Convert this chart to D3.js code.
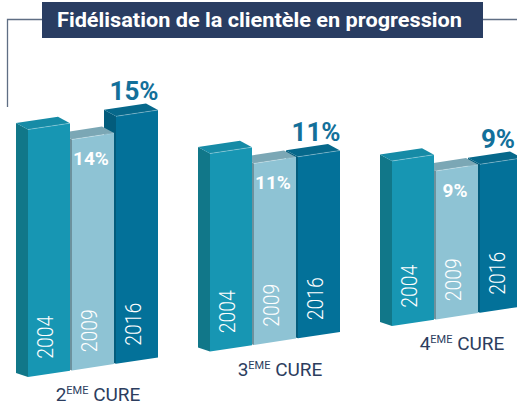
<!DOCTYPE html>
<html>
<head>
<meta charset="utf-8">
<script src="https://cdn.jsdelivr.net/npm/d3@7"></script>
<style>
  html, body { margin: 0; padding: 0; background: #fff; }
  svg { display: block; font-family: Roboto, "Noto Sans", sans-serif; }
</style>
</head>
<body>
<div id="chart"></div>
<script>
const groups = ["2", "3", "4"];                 // n-ème cure
const years = ["2004", "2009", "2016"];
const values2004 = [15, 12, 10];                // no label in the picture, read from heights
const values2009 = [14, 11, 9];
const values2016 = [15, 11, 9];
const titleText = "Fidélisation de la clientèle en progression";

const valuesByYear = [values2004, values2009, values2016];

const W = 517, H = 405;

// face colours: front / side / top
const palette = {
    "2004": { front: "#1796b3", side: "#117789", top: "#168ba6" },
    "2009": { front: "#8ec3d4", side: "#6c919d", top: "#7ba7b5" },
    "2016": { front: "#037199", side: "#035c7c", top: "#06688b" },
};

const svg = d3.select("#chart")
    .append("svg")
    .attr("width", W)
    .attr("height", H);

/* ============================================================
   TITLE + FRAME
============================================================ */

svg.append("path")
    .attr("d", "M42,19.5 H7.5 V107 M483,19.5 H517")
    .attr("fill", "none")
    .attr("stroke", "#5f6e84")
    .attr("stroke-width", 1.3);

svg.append("rect")
    .attr("x", 42).attr("y", 2)
    .attr("width", 441).attr("height", 36)
    .attr("fill", "#293d62");

svg.append("text")
    .attr("x", 259.5).attr("y", 27)
    .attr("text-anchor", "middle")
    .attr("fill", "#fff")
    .attr("font-size", 21)
    .attr("font-weight", 700)
    .attr("textLength", 405)
    .attr("lengthAdjust", "spacingAndGlyphs")
    .text(titleText);

/* ============================================================
   SCALES (3D perspective plane)
============================================================ */

const gx = d3.scalePoint().domain(groups).range([28, 392]);
const gBase = d3.scalePoint().domain(groups).range([377, 326]);
const bx = d3.scaleBand().domain(years).range([0, 130]).paddingInner(2 / 44);
const hScale = d3.scaleLinear().domain([0, 15]).range([0, 247.5]);

const slope = -0.15;          // front faces lean up to the right
const dx = -12, dyTop = -6.5, dyBot = -4;
const w = bx.bandwidth();

const bars = groups.flatMap((g, gi) =>
    years.map((yr, yi) => {
        const off = bx(yr);
        const x = gx(g) + off;
        const yb = gBase(g) + slope * off;
        const h = hScale(valuesByYear[yi][gi]);
        return { g, gi, yr, yi, v: valuesByYear[yi][gi], x, yb, h };
    })
);

// paint right to left inside a group: left bars sit in front
const order = bars.slice().sort((a, b) => a.gi - b.gi || b.yi - a.yi);

const line = (pts) => "M" + pts.map((p) => p.join(",")).join("L") + "Z";

const gBars = svg.append("g");

order.forEach((d) => {
    const c = palette[d.yr];
    const yt = d.yb - d.h;
    const g = gBars.append("g");

    g.append("path")
        .attr("d", line([
            [d.x, d.yb], [d.x, yt],
            [d.x + dx, yt + dyTop], [d.x + dx, d.yb + dyBot],
        ]))
        .attr("fill", c.side);

    g.append("path")
        .attr("d", line([
            [d.x, yt], [d.x + w, yt + slope * w],
            [d.x + w + dx, yt + slope * w + dyTop], [d.x + dx, yt + dyTop],
        ]))
        .attr("fill", c.top);

    g.append("path")
        .attr("d", line([
            [d.x, d.yb], [d.x + w, d.yb + slope * w],
            [d.x + w, yt + slope * w], [d.x, yt],
        ]))
        .attr("fill", c.front);

    // light edge on the front top
    g.append("line")
        .attr("x1", d.x).attr("y1", yt)
        .attr("x2", d.x + w).attr("y2", yt + slope * w)
        .attr("stroke", "rgba(255,255,255,0.35)")
        .attr("stroke-width", 0.8);

    // year, written upwards
    const cx = d.x + w / 2 - 3.5;
    const cy = d.yb + slope * w / 2 - 15;
    g.append("text")
        .attr("transform", `translate(${cx},${cy}) rotate(-90)`)
        .attr("dy", "0.35em")
        .attr("fill", "#fff")
        .attr("font-size", 22)
        .attr("font-weight", 300)
        .attr("textLength", 43)
        .attr("lengthAdjust", "spacingAndGlyphs")
        .text(d.yr);
});

/* ============================================================
   VALUE LABELS
============================================================ */

bars.filter((d) => d.yr === "2009").forEach((d) => {
    const topC = d.yb - d.h + slope * w / 2;
    svg.append("text")
        .attr("x", d.x + w / 2 - 2)
        .attr("y", topC + 29)
        .attr("text-anchor", "middle")
        .attr("fill", "#fff")
        .attr("font-size", 19)
        .attr("font-weight", 700)
        .text(`${d.v}%`);
});

bars.filter((d) => d.yr === "2016").forEach((d) => {
    const topC = d.yb - d.h + slope * w / 2;
    svg.append("text")
        .attr("x", d.x + w / 2 - 3)
        .attr("y", topC - 13)
        .attr("text-anchor", "middle")
        .attr("fill", "#13709a")
        .attr("font-size", 26)
        .attr("font-weight", 700)
        .text(`${d.v}%`);
});

/* ============================================================
   GROUP LABELS
============================================================ */

groups.forEach((g) => {
    const t = svg.append("text")
        .attr("x", gx(g) + 70)
        .attr("y", gBase(g) + 24)
        .attr("text-anchor", "middle")
        .attr("fill", "#2c3d5e")
        .attr("font-size", 19)
        .attr("font-weight", 400);
    t.append("tspan").text(g);
    t.append("tspan").attr("font-size", 11).attr("dy", -7).text("EME");
    t.append("tspan").attr("dy", 7).text(" CURE");
});
</script>
</body>
</html>
